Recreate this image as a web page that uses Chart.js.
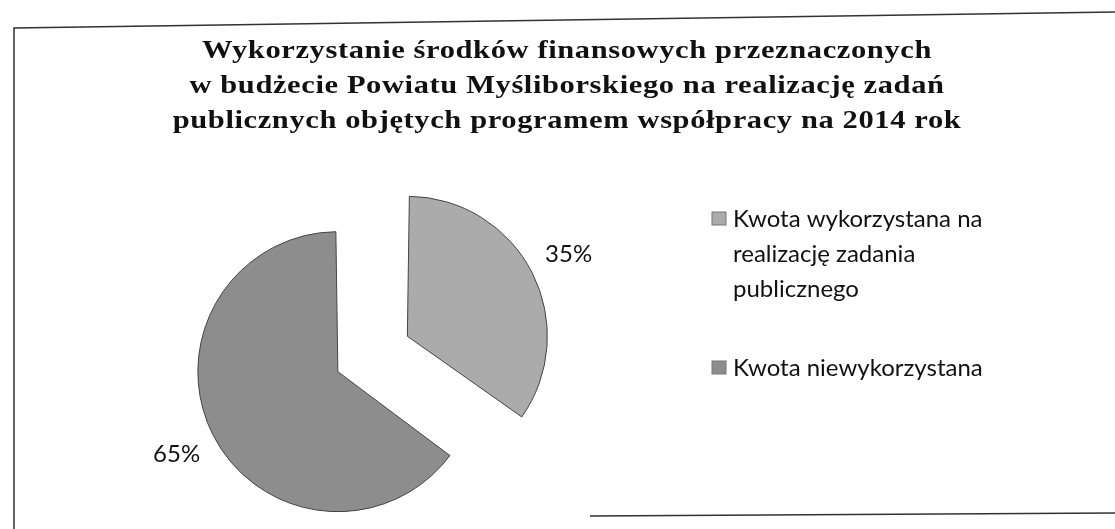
<!DOCTYPE html>
<html>
<head>
<meta charset="utf-8">
<script src="https://cdn.jsdelivr.net/npm/chart.js@4.4.1/dist/chart.umd.min.js"></script>
<style>
  html, body { margin: 0; padding: 0; background: #fff; }
  #wrap { position: absolute; left: 0; top: 0; width: 1115px; height: 529px; }
</style>
</head>
<body>
<div id="wrap"><canvas id="pie"></canvas></div>
<script>
const labels = [
    ['Kwota wykorzystana na', 'realizację zadania', 'publicznego'],
    ['Kwota niewykorzystana']
];
const shares = [35, 65];
const colors = ['#ababab', '#8d8d8d'];
const titleLines = [
    'Wykorzystanie środków finansowych przeznaczonych',
    'w budżecie Powiatu Myśliborskiego na realizację zadań',
    'publicznych objętych programem współpracy na 2014 rok'
];

// chart.js moves a slice by offset/4 and grows its radius by (offset/4)*fix
function arcShift(arc) {
    const o = (arc.options.offset || 0) / 4;
    const c = arc.endAngle - arc.startAngle;
    const fix = 1 - Math.sin(Math.min(Math.PI, c));
    return { move: o, grow: o * fix };
}

// scanned page frame, title, percent labels and legend
const extras = {
    id: 'extras',
    afterDraw(chart) {
        const ctx = chart.ctx;
        ctx.save();
        ctx.strokeStyle = '#333';
        ctx.lineWidth = 1.5;
        ctx.beginPath();
        ctx.moveTo(14, 529); ctx.lineTo(14, 28); ctx.lineTo(1115, 12);
        ctx.moveTo(590, 516); ctx.lineTo(1115, 513);
        ctx.stroke();

        // title
        ctx.fillStyle = '#111';
        ctx.textAlign = 'center';
        ctx.textBaseline = 'alphabetic';
        ctx.font = 'bold 25px "Liberation Serif"';
        ctx.letterSpacing = '0.5px';
        titleLines.forEach((t, k) => {
            ctx.save();
            ctx.translate(567, 58 + k * 35);
            ctx.scale(1.22, 1);
            ctx.fillText(t, 0, 0);
            ctx.restore();
        });
        ctx.letterSpacing = '0px';

        const meta = chart.getDatasetMeta(0);
        const ds = chart.data.datasets[0];
        const total = ds.data.reduce((a, b) => a + b, 0);
        ctx.font = '24px Lato';
        ctx.textBaseline = 'middle';
        meta.data.forEach((arc, i) => {
            const s = arcShift(arc);
            const mid = (arc.startAngle + arc.endAngle) / 2;
            const d = s.move + arc.outerRadius + s.grow + 41;
            const pct = Math.round(ds.data[i] / total * 100) + '%';
            ctx.fillText(pct, arc.x + Math.cos(mid) * d, arc.y + Math.sin(mid) * d);
        });

        // legend
        ctx.textAlign = 'left';
        ctx.textBaseline = 'alphabetic';
        let y = 227;
        chart.data.labels.forEach((lines, i) => {
            ctx.fillStyle = colors[i];
            ctx.fillRect(712, y - 15, 14, 13);
            ctx.strokeStyle = '#777';
            ctx.lineWidth = 1;
            ctx.strokeRect(712, y - 15, 14, 13);
            ctx.fillStyle = '#111';
            lines.forEach((t, k) => ctx.fillText(t, 733, y + k * 35));
            y += lines.length * 35 + 44;
        });
        ctx.restore();
    }
};

new Chart(document.getElementById('pie'), {
    type: 'pie',
    data: {
        labels: labels,
        datasets: [{
            data: shares,
            backgroundColor: colors,
            borderColor: '#444',
            borderWidth: 1,
            offset: [262, 50],
            radius: 127.5
        }]
    },
    options: {
        responsive: true,
        maintainAspectRatio: false,
        animation: false,
        layout: {
            padding: { left: 20, right: 437, top: 204, bottom: 1 }
        },
        plugins: {
            legend: { display: false },
            tooltip: { enabled: false },
            title: { display: false }
        }
    },
    plugins: [extras]
});
</script>
</body>
</html>
